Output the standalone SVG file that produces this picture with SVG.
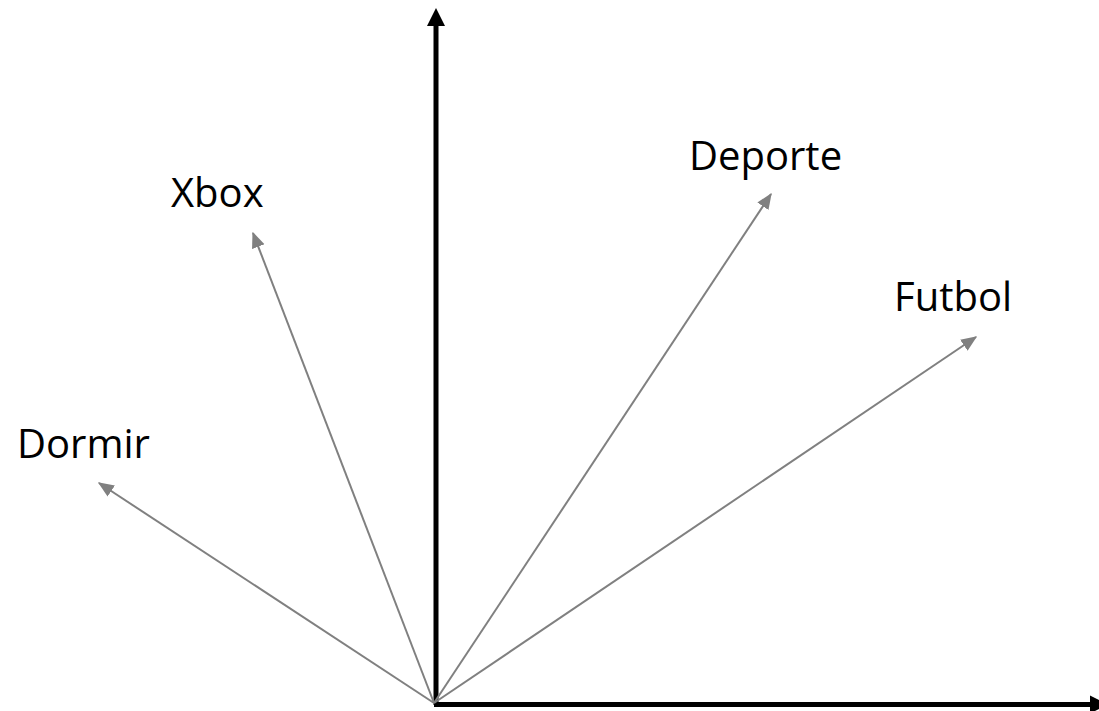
<svg xmlns="http://www.w3.org/2000/svg" width="1099" height="711" viewBox="0 0 1099 711">
<style>
.lbl{font-family:"Open Sans","Liberation Sans",sans-serif;font-size:40px;fill:#000}
.vec{stroke:#808080;stroke-width:2;fill:none;marker-end:url(#ga)}
.axis{stroke:#000;stroke-width:5;fill:none}
</style>
<defs>
<marker id="ga" viewBox="0 0 12 10" refX="11" refY="5" markerWidth="8" markerHeight="7" orient="auto" markerUnits="strokeWidth">
<path d="M0,0 L12,5 L0,10 Z" fill="#808080"/>
</marker>
</defs>
<rect width="1099" height="711" fill="#fff"/>
<g id="axes">
<line class="axis" x1="436" y1="705" x2="436" y2="24"/>
<polygon points="436,8 427,26 445,26" fill="#000"/>
<line class="axis" x1="434" y1="704.5" x2="1092" y2="704.5"/>
<polygon points="1108,704.5 1090,695.5 1090,713.5" fill="#000"/>
</g>
<g id="connectors">
<line class="vec" x1="434" y1="703" x2="99" y2="483"/>
<line class="vec" x1="434" y1="703" x2="253" y2="233"/>
<line class="vec" x1="434" y1="703" x2="771" y2="194"/>
<line class="vec" x1="434" y1="703" x2="976" y2="337"/>
</g>
<g id="dormir"><text class="lbl" x="17" y="458">Dormir</text></g>
<g id="xbox"><text class="lbl" x="171" y="207">Xbox</text></g>
<g id="deporte"><text class="lbl" x="689" y="170">Deporte</text></g>
<g id="futbol"><text class="lbl" x="894" y="311">Futbol</text></g>
</svg>
